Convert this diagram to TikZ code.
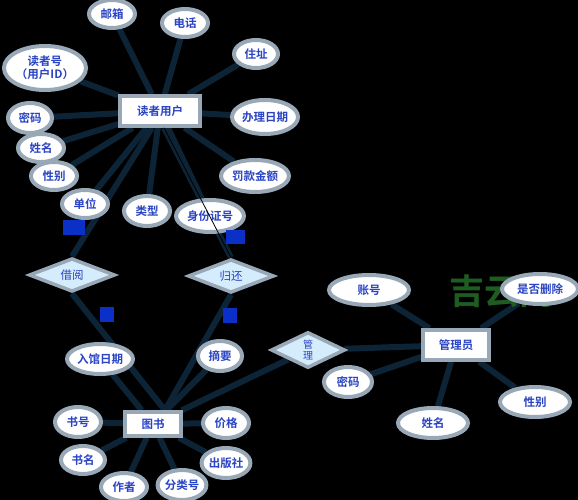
\documentclass[tikz,border=0pt]{standalone}
\usepackage{fontspec}
\setmainfont{Noto Sans CJK SC}[BoldFont={Noto Sans CJK SC Bold}]
\usetikzlibrary{shapes.geometric}
\definecolor{bordc}{HTML}{98A8B6}
\definecolor{txtc}{HTML}{2A44C4}
\definecolor{linec}{HTML}{0C2436}
\definecolor{dfill}{HTML}{D4ECFC}
\definecolor{cardc}{HTML}{0A30C8}
\definecolor{wmc}{HTML}{1F5C22}
\pgfdeclarelayer{back}
\pgfdeclarelayer{bg}
\pgfsetlayers{back,bg,main}
\tikzset{
  attr/.style={ellipse, draw=bordc, line width=4pt, fill=white, text=txtc, font=\fontsize{11.5}{13}\selectfont\bfseries, inner sep=0pt, minimum width=#1},
  attr/.default=44pt,
  ent/.style={rectangle, draw=bordc, line width=3.5pt, fill=white, text=txtc, font=\fontsize{11.5}{13}\selectfont\bfseries, inner sep=0pt},
  rel/.style={diamond, draw=bordc, line width=3.5pt, fill=dfill, text=txtc, font=\fontsize{11.5}{13}\selectfont, inner sep=0pt},
  conn/.style={draw=linec, line width=6pt},
  thin/.style={draw=black, line width=0.8pt},
  card/.style={fill=cardc, draw=none}
}
\begin{document}
\begin{tikzpicture}[x=1pt,y=-1pt]
\begin{pgfonlayer}{back}
\fill[black] (0,0) rectangle (578,500);
\end{pgfonlayer}
\useasboundingbox (0,0) rectangle (578,500);
% reader entity
\node[ent, minimum width=80pt, minimum height=30pt] (reader) at (160,111) {读者用户};
\node[attr=46pt, minimum height=28pt] (mail) at (112,14) {邮箱};
\node[attr=46pt, minimum height=28pt] (tel) at (185,23) {电话};
\node[attr=80pt, minimum height=44pt, align=center] (rid) at (45,68) {读者号\\（用户ID）};
\node[attr=44pt, minimum height=28pt] (addr) at (256,54) {住址};
\node[attr=44pt, minimum height=30pt] (pwd) at (30,118) {密码};
\node[attr=66pt, minimum height=34pt] (rdate) at (265,117) {办理日期};
\node[attr=46pt, minimum height=28pt] (name) at (41,148) {姓名};
\node[attr=46pt, minimum height=28pt] (sex) at (54,176) {性别};
\node[attr=68pt, minimum height=32pt] (fine) at (255,176) {罚款金额};
\node[attr=46pt, minimum height=28pt] (unit) at (85,204) {单位};
\node[attr=46pt, minimum height=30pt] (type) at (147,211) {类型};
\node[attr=68pt, minimum height=32pt] (idno) at (210,216) {身份证号};
% relations
\node[rel, minimum width=86pt, minimum height=30pt] (borrow) at (72,275) {借阅};
\node[rel, minimum width=86pt, minimum height=30pt] (ret) at (231,276) {归还};
\node[rel, minimum width=74pt, minimum height=36pt, align=center, font=\fontsize{10}{11}\selectfont] (manage) at (308,350) {管\\理};
% book entity
\node[ent, minimum width=56pt, minimum height=24pt] (book) at (153,424) {图书};
\node[attr=66pt, minimum height=30pt] (indate) at (100,359) {入馆日期};
\node[attr=44pt, minimum height=30pt] (abs) at (220,356) {摘要};
\node[attr=46pt, minimum height=30pt] (bno) at (78,422) {书号};
\node[attr=46pt, minimum height=30pt] (price) at (226,423) {价格};
\node[attr=44pt, minimum height=28pt] (bname) at (83,460) {书名};
\node[attr=44pt, minimum height=30pt] (pub) at (226,463) {出版社};
\node[attr=46pt, minimum height=28pt] (author) at (124,487) {作者};
\node[attr=46pt, minimum height=30pt] (cls) at (182,485) {分类号};
% admin entity
\node[ent, minimum width=66pt, minimum height=30pt] (admin) at (456,345) {管理员};
\node[attr=80pt, minimum height=30pt] (acc) at (369,290) {账号};
\node[attr=76pt, minimum height=30pt] (del) at (540,289) {是否删除};
\node[attr=48pt, minimum height=30pt] (apwd) at (348,382) {密码};
\node[attr=70pt, minimum height=30pt] (aname) at (433,423) {姓名};
\node[attr=70pt, minimum height=30pt] (asex) at (535,402) {性别};
% connectors
\begin{pgfonlayer}{bg}
\foreach \a in {mail,tel,rid,addr,pwd,rdate,name,sex,fine,unit,type,idno}
  \draw[conn] (reader) -- (\a);
\draw[conn] ([xshift=-8pt]reader.south) -- (borrow.north);
\draw[conn] ([xshift=4pt]reader.south) -- (ret.north);
\foreach \a in {indate,abs,bno,price,bname,pub,author,cls,manage}
  \draw[conn] (book) -- (\a);
\draw[conn] ([xshift=12pt]book.north) -- (ret.south);
\draw[conn] (borrow.south) -- ([xshift=12pt]book.north);
\foreach \a in {acc,del,apwd,aname,asex,manage}
  \draw[conn] (admin) -- (\a);
\node[text=wmc, font=\fontsize{35}{36}\selectfont\bfseries, inner sep=0pt] (wm) at (502,291) {吉云网};
\end{pgfonlayer}
\draw[thin] ([xshift=4pt]reader.south) -- (ret.north);
% cardinality marks
\fill[card] (63,220) rectangle (85,235);
\fill[card] (226,230) rectangle (245,244);
\fill[card] (100,307) rectangle (114,322);
\fill[card] (223,308) rectangle (237,323);
\end{tikzpicture}
\end{document}
